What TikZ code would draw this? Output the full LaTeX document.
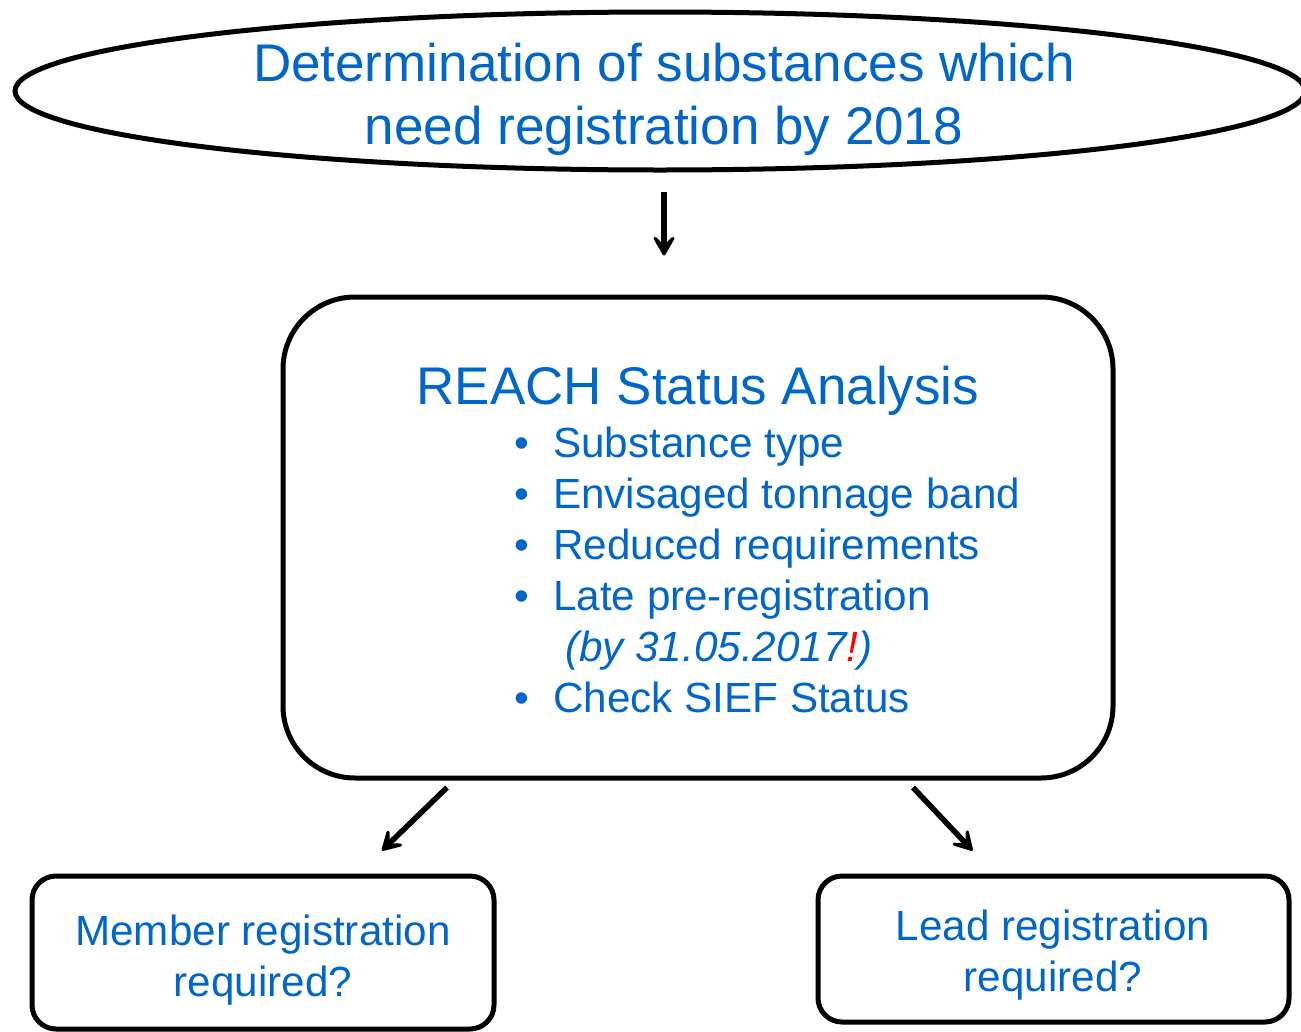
\documentclass[tikz,border=0pt]{standalone}
\usepackage{fontspec}
\setmainfont{Liberation Sans}
\usetikzlibrary{arrows.meta,calc,shapes.geometric}
\definecolor{txtblue}{RGB}{0,102,204}
\definecolor{warnred}{RGB}{255,0,0}
\begin{document}
\begin{tikzpicture}[x=1pt,y=-1pt,
  bigfont/.style={font=\fontsize{53}{63}\selectfont},
  midfont/.style={font=\fontsize{42.2}{51}\selectfont},
  bluetext/.style={text=txtblue,inner sep=0pt},
  boxline/.style={draw=black,line width=5pt},
  arr/.style={line width=5.5pt,-{Stealth[length=27pt,width=31pt,inset=15pt,round]}},
  qbox/.style={boxline,rectangle,rounded corners=24pt,inner sep=0pt}]
\useasboundingbox (0,0) rectangle (1301,1031);
% top ellipse
\node[boxline,ellipse,minimum width=1290pt,minimum height=158pt,inner sep=0pt] (top) at (660,91) {};
\node[bluetext,bigfont,align=center] (toptext) at (664,99) {Determination of substances which\\need registration by 2018};
% main box
\node[boxline,rectangle,rounded corners=72pt,minimum width=830pt,minimum height=481pt,inner sep=0pt] (main) at (698,537.5) {};
\node[bluetext,bigfont,anchor=base] (title) at (698,404) {REACH Status Analysis};
\node[bluetext,midfont,anchor=base west] (b1) at (514,457) {\makebox[39pt][l]{•}Substance type};
\node[bluetext,midfont,anchor=base west] (b2) at (514,508) {\makebox[39pt][l]{•}Envisaged tonnage band};
\node[bluetext,midfont,anchor=base west] (b3) at (514,559) {\makebox[39pt][l]{•}Reduced requirements};
\node[bluetext,midfont,anchor=base west] (b4) at (514,610) {\makebox[39pt][l]{•}Late pre-registration};
\node[bluetext,midfont,anchor=base west] (b5) at (565,661) {\itshape (by 31.05.2017\textcolor{warnred}{!})};
\node[bluetext,midfont,anchor=base west] (b6) at (514,712) {\makebox[39pt][l]{•}Check SIEF Status};
% bottom boxes
\node[qbox,minimum width=462pt,minimum height=153pt] (left) at (263,952.5) {};
\node[bluetext,midfont,align=center] (lefttext) at (263,960) {Member registration\\required?};
\node[qbox,minimum width=471pt,minimum height=146pt] (right) at (1053.5,949) {};
\node[bluetext,midfont,align=center] (righttext) at (1053,955) {Lead registration\\required?};
% arrows
\draw[arr] ($(top.south)+(4,19)$) -- ($(main.north)+(-34,-39)$);
\draw[arr] ($(main.south)+(-251,7)$) -- ($(left.north)+(119,-23)$);
\draw[arr] ($(main.south)+(215,7)$) -- ($(right.north)+(-81,-23)$);
\end{tikzpicture}
\end{document}
